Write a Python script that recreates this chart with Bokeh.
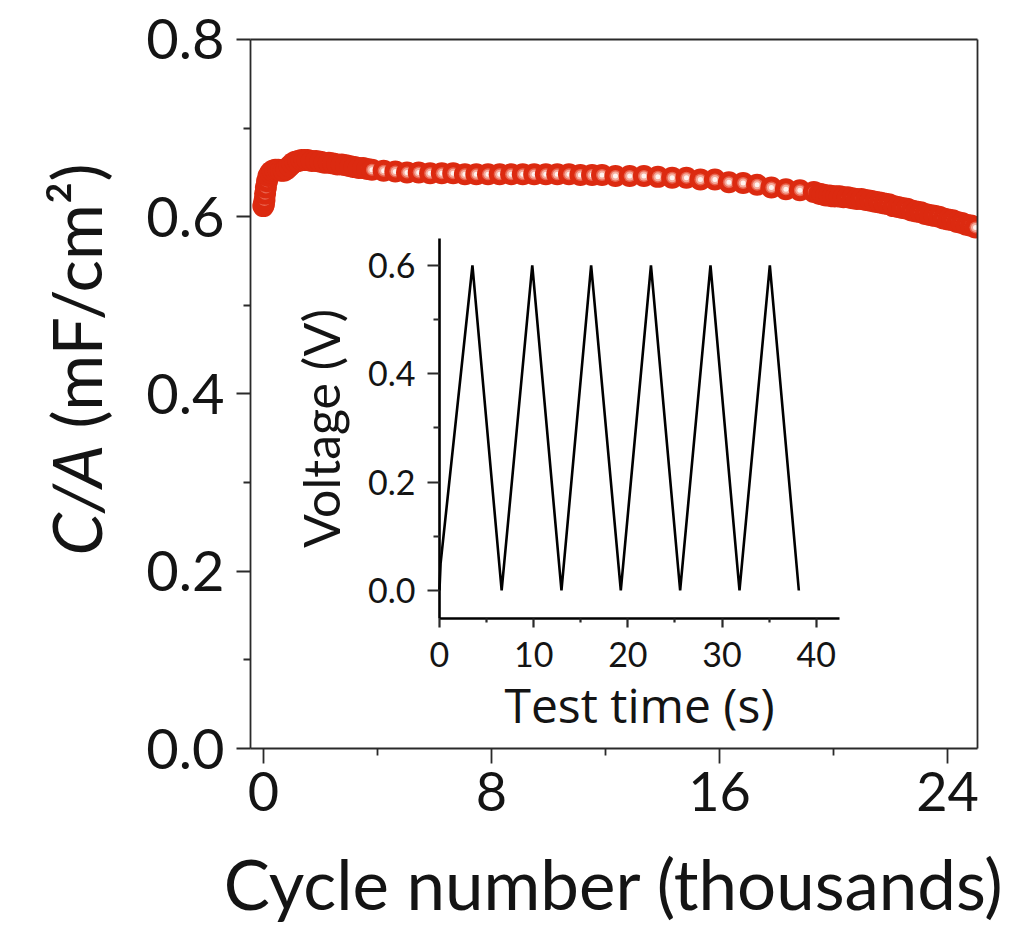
import math
from bokeh.plotting import figure
from bokeh.models import (Range1d, LinearAxis, FixedTicker, Label,
                          PrintfTickFormatter, BoxAnnotation)
from bokeh.embed import file_html
from bokeh.resources import INLINE

# ---------------- data ----------------
cycles_k = [0.00, 0.02, 0.04, 0.06, 0.09, 0.13, 0.18, 0.25, 0.33, 0.42,
            0.52, 0.62, 0.72, 0.82, 0.92, 1.02, 1.12, 1.23, 1.34, 1.45,
            1.55, 1.70, 1.85, 2.00, 2.15, 2.30, 2.45, 2.60, 2.75, 2.90,
            3.05, 3.20, 3.35, 3.50, 3.65,
            3.81, 4.22, 4.63, 5.04, 5.45, 5.85, 6.26, 6.66, 7.07, 7.47,
            7.88, 8.29, 8.69, 9.10, 9.50, 9.91, 10.31, 10.72, 11.12, 11.53,
            11.88, 12.35, 12.85, 13.35, 13.84, 14.34, 14.84, 15.33, 15.84, 16.33,
            16.83, 17.32, 17.82, 18.33, 18.82, 19.31,
            19.50, 19.62, 19.74, 19.86, 19.98, 20.10, 20.22, 20.35, 20.50, 20.66,
            20.82, 20.98, 21.14, 21.30, 21.46, 21.62, 21.78, 21.94, 22.10, 22.26,
            22.42, 22.58, 22.74, 22.90, 23.06, 23.22, 23.38, 23.54, 23.70, 23.86,
            24.02, 24.18, 24.34, 24.50, 24.66, 24.82, 24.98]
cap_mF = [0.612, 0.614, 0.619, 0.626, 0.633, 0.640, 0.646, 0.650, 0.652, 0.653,
          0.653, 0.652, 0.652, 0.654, 0.657, 0.660, 0.662, 0.663, 0.664, 0.664,
          0.664, 0.663, 0.663, 0.662, 0.661, 0.661, 0.660, 0.659, 0.659, 0.658,
          0.657, 0.656, 0.655, 0.655, 0.654,
          0.653, 0.652, 0.651, 0.650, 0.650, 0.649, 0.649, 0.649, 0.648, 0.648,
          0.648, 0.648, 0.648, 0.648, 0.648, 0.648, 0.648, 0.648, 0.647, 0.647,
          0.647, 0.646, 0.646, 0.646, 0.645, 0.644, 0.644, 0.642, 0.642, 0.639,
          0.638, 0.636, 0.633, 0.631, 0.630, 0.628,
          0.626, 0.625, 0.624, 0.624, 0.623, 0.623, 0.623, 0.622, 0.622, 0.621,
          0.620, 0.620, 0.619, 0.618, 0.617, 0.616, 0.615, 0.614, 0.612, 0.611,
          0.610, 0.609, 0.607, 0.606, 0.605, 0.603, 0.602, 0.601, 0.600, 0.598,
          0.597, 0.596, 0.594, 0.593, 0.591, 0.590, 0.588]

time_s = [0.0, 0.12, 3.50, 6.60, 9.85, 12.95, 16.10, 19.25, 22.45, 25.55,
          28.77, 31.85, 35.07, 38.15]
volt_V = [0.0, 0.05, 0.60, 0.00, 0.60, 0.00, 0.60, 0.00, 0.60, 0.00,
          0.60, 0.00, 0.60, 0.00]

main_xticks = [0, 8, 16, 24]
main_xminor = [4, 12, 20]
main_yticks = [0.0, 0.2, 0.4, 0.6, 0.8]
main_yminor = [0.1, 0.3, 0.5, 0.7]
inset_xticks = [0, 10, 20, 30, 40]
inset_xminor = [5, 15, 25, 35]
inset_yticks = [0.0, 0.2, 0.4, 0.6]
inset_yminor = [0.1, 0.3, 0.5]

# ---------------- layout (axis limits) ----------------
X0, X1 = -0.45, 25.05      # main x limits
Y0, Y1 = 0.0, 0.8          # main y limits
T0, T1 = 0.0, 42.5         # inset x limits
V0, V1 = -0.052, 0.65      # inset y limits

FONT = "Lato"
TXT = "#141414"
AX = "#2a2a2a"

# the whole canvas is the data frame; all axes are placed at fixed locations
p = figure(width=1015, height=928, output_backend="svg", toolbar_location=None,
           x_range=Range1d(-9.219, 26.383), y_range=Range1d(-0.2031, 0.8440),
           x_axis_type=None, y_axis_type=None,
           min_border_left=0, min_border_top=0, min_border_right=0,
           min_border_bottom=0)
p.grid.visible = False
p.outline_line_color = None
p.background_fill_color = "white"
p.border_fill_color = "white"

# inset coordinate system
p.extra_x_ranges = {"tx": Range1d(-46.60, 61.15)}
p.extra_y_ranges = {"ty": Range1d(-0.6240, 1.0892)}


def style(ax, tick_size, label_size, font=FONT):
    ax.axis_line_color = AX
    ax.major_tick_line_color = AX
    ax.minor_tick_line_color = AX
    ax.major_tick_in = 0
    ax.minor_tick_in = 0
    ax.major_label_text_font = FONT
    ax.major_label_text_font_size = f"{tick_size}px"
    ax.major_label_text_color = TXT
    ax.axis_label_text_font = font
    ax.axis_label_text_font_size = f"{label_size}px"
    ax.axis_label_text_font_style = "normal"
    ax.axis_label_text_color = TXT


# main data: each point drawn as a glossy bead (red disc + soft light core)
bead_sizes = [22, 12, 9, 5]
bead_colors = ["#dc2a10", "#e9644f", "#f5ab9c", "#fff3ef"]
bx, by, bs, bc = [], [], [], []
for xv, yv in zip(cycles_k, cap_mF):
    for s, c in zip(bead_sizes, bead_colors):
        bx.append(xv)
        by.append(yv)
        bs.append(s)
        bc.append(c)
p.scatter(bx, by, marker="circle", size=bs, fill_color=bc, line_color=None)

# keep the beads inside the main box (right edge)
p.add_layout(BoxAnnotation(left=X1, fill_color="white", fill_alpha=1.0,
                           line_color=None, level="glyph"))

# inset curve
p.line(time_s, volt_V, x_range_name="tx", y_range_name="ty",
       line_color="black", line_width=2.6)

# main axes
xax = LinearAxis(fixed_location=Y0, bounds=(X0, X1),
                 ticker=FixedTicker(ticks=main_xticks, minor_ticks=main_xminor),
                 axis_label="Cycle number (thousands)")
style(xax, 54, 69)
xax.axis_line_width = 1.8
xax.major_tick_line_width = 1.8
xax.minor_tick_line_width = 1.8
xax.major_tick_out = 15
xax.minor_tick_out = 7
xax.major_label_standoff = 8
xax.axis_label_standoff = 28
p.add_layout(xax, "below")

yax = LinearAxis(fixed_location=X0, bounds=(Y0, Y1),
                 ticker=FixedTicker(ticks=main_yticks, minor_ticks=main_yminor),
                 formatter=PrintfTickFormatter(format="%.1f"))
style(yax, 56, 66)
yax.axis_line_width = 1.8
yax.major_tick_line_width = 1.8
yax.minor_tick_line_width = 1.8
yax.major_tick_out = 14
yax.minor_tick_out = 7
yax.major_label_standoff = 12
p.add_layout(yax, "left")

# top and right edges of the box
tax = LinearAxis(fixed_location=Y1, bounds=(X0, X1), ticker=FixedTicker(ticks=[]))
tax.axis_line_color = AX
tax.axis_line_width = 1.8
tax.major_label_text_font_size = "0px"
p.add_layout(tax, "above")
rax = LinearAxis(fixed_location=X1, bounds=(Y0, Y1), ticker=FixedTicker(ticks=[]))
rax.axis_line_color = AX
rax.axis_line_width = 1.8
rax.major_label_text_font_size = "0px"
p.add_layout(rax, "right")

# y title: italic quantity + unit
p.add_layout(Label(x=-6.59, y=0.2178, text="C/A",
                   angle=math.pi / 2, text_align="left", text_baseline="middle",
                   text_font=FONT, text_font_size="68px", text_font_style="italic",
                   text_color=TXT))
p.add_layout(Label(x=-6.59, y=0.3611, text="(mF/cm²)",
                   angle=math.pi / 2, text_align="left", text_baseline="middle",
                   text_font=FONT, text_font_size="68px", text_color=TXT))

# inset axes
ixax = LinearAxis(x_range_name="tx", y_range_name="ty", fixed_location=V0,
                  bounds=(T0, T1),
                  ticker=FixedTicker(ticks=inset_xticks, minor_ticks=inset_xminor),
                  axis_label="Test time (s)")
style(ixax, 34, 48, font="Open Sans")
ixax.axis_line_width = 2.6
ixax.major_tick_line_width = 2.2
ixax.minor_tick_line_width = 2.2
ixax.axis_line_color = "black"
ixax.major_tick_out = 9
ixax.minor_tick_out = 4
ixax.major_label_standoff = 14
ixax.axis_label_standoff = 2
p.add_layout(ixax, "below")

iyax = LinearAxis(x_range_name="tx", y_range_name="ty", fixed_location=T0,
                  bounds=(V0, V1),
                  ticker=FixedTicker(ticks=inset_yticks, minor_ticks=inset_yminor),
                  formatter=PrintfTickFormatter(format="%.1f"),
                  axis_label="Voltage (V)")
style(iyax, 34, 50)
iyax.axis_line_width = 2.6
iyax.major_tick_line_width = 2.2
iyax.minor_tick_line_width = 2.2
iyax.axis_line_color = "black"
iyax.major_tick_out = 12
iyax.minor_tick_out = 6
iyax.major_label_standoff = 12
iyax.axis_label_standoff = 14
p.add_layout(iyax, "left")

open("out.html", "w").write(file_html(p, INLINE))
